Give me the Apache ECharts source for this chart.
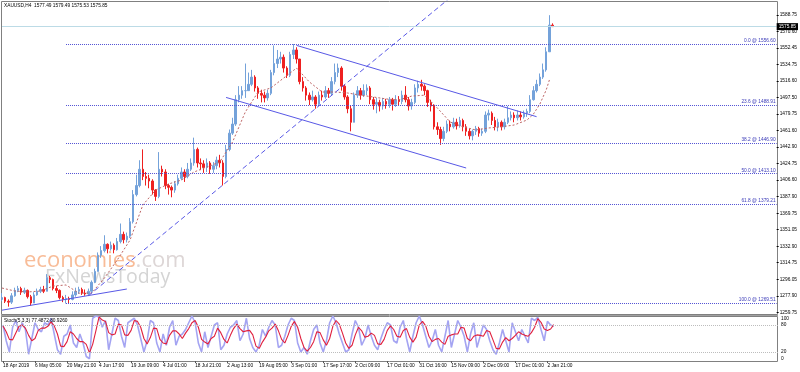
<!DOCTYPE html>
<html><head><meta charset="utf-8">
<script src="https://cdn.jsdelivr.net/npm/echarts@6/dist/echarts.min.js"></script>
<style>html,body{margin:0;padding:0;background:#fff}#c{width:800px;height:372px}</style>
</head><body><div id="c"></div>
<script>
const dates = ['18 Apr 2019','6 May 05:00','20 May 21:00','4 Jun 17:00','19 Jun 09:00','4 Jul 01:00','18 Jul 21:00','2 Aug 13:00','19 Aug 05:00','3 Sep 01:00','17 Sep 17:00','2 Oct 09:00','17 Oct 01:00','31 Oct 16:00','15 Nov 09:00','2 Dec 09:00','17 Dec 01:00','2 Jan 21:00'];
const priceLabels = ['1259.75','1277.90','1296.05','1314.75','1332.90','1351.05','1369.75','1387.90','1406.60','1424.75','1442.90','1461.60','1479.75','1497.50','1516.60','1534.75','1552.45','1570.60','1588.75'];
const stochLabels = ['0','20','80','100'];

const firstOpen = 1274;
const closes = [1276,1272,1271,1278,1284,1286,1282,1284,1277,1270,
1279,1283,1285,1283,1298,1296,1286,1284,1276,1274,
1275,1274,1279,1283,1285,1281,1280,1283,1293,1305,
1323,1328,1335,1330,1334,1329,1338,1346,1340,1344,
1360,1390,1400,1418,1410,1408,1405,1395,1388,1418,
1415,1400,1398,1395,1402,1408,1415,1410,1418,1425,
1440,1425,1424,1420,1425,1418,1422,1428,1425,1410,
1440,1458,1468,1495,1500,1505,1505,1512,1520,1508,
1502,1500,1497,1502,1525,1535,1540,1542,1530,1522,
1545,1550,1540,1515,1508,1500,1495,1498,1490,1500,
1498,1505,1502,1515,1525,1530,1510,1498,1485,1470,
1500,1505,1500,1505,1508,1495,1490,1492,1488,1493,
1490,1495,1490,1495,1493,1500,1495,1488,1492,1508,
1512,1510,1505,1492,1488,1465,1462,1452,1460,1468,
1465,1470,1466,1472,1465,1460,1455,1460,1463,1458,
1460,1478,1480,1472,1465,1470,1465,1470,1475,1478,
1475,1478,1476,1480,1482,1495,1505,1512,1520,1528,
1548,1577.49,1575.85];
const highs = [1281,1277,1274,1281,1287,1289,1288,1287,1285,1279,
1282,1286,1288,1289,1302,1300,1297,1289,1285,1278,
1279,1277,1283,1287,1288,1287,1285,1286,1295,1308,
1326,1333,1345,1336,1338,1336,1342,1358,1349,1348,
1364,1395,1412,1428,1440,1415,1412,1407,1396,1437,
1422,1418,1402,1400,1405,1412,1420,1418,1425,1430,
1453,1442,1430,1428,1430,1427,1426,1432,1434,1428,
1445,1462,1475,1500,1510,1510,1535,1525,1528,1522,
1510,1506,1504,1506,1528,1555,1550,1548,1545,1532,
1548,1556.6,1553,1540,1520,1510,1503,1505,1500,1504,
1505,1510,1508,1520,1535,1535,1532,1512,1500,1488,
1503,1510,1508,1512,1512,1510,1498,1497,1495,1497,
1496,1498,1497,1500,1499,1505,1510,1498,1496,1512,
1516,1517,1512,1506,1495,1490,1470,1465,1465,1472,
1472,1475,1474,1476,1474,1468,1463,1462,1466,1465,
1463,1482,1484,1482,1476,1474,1472,1474,1488,1482,
1481,1483,1482,1483,1485,1500,1510,1517,1524,1535,
1553,1588.5,1579.49];
const lows = [1272,1270,1266,1269,1277,1282,1279,1280,1275,1267,
1270,1278,1281,1281,1283,1292,1284,1281,1274,1271,
1269.5,1270,1273,1277,1280,1279,1278,1278,1281,1292,
1305,1320,1326,1325,1328,1325,1328,1336,1336,1337,
1342,1358,1388,1398,1406,1400,1397,1390,1383,1386,
1410,1396,1390,1387,1392,1400,1406,1404,1408,1416,
1422,1420,1417,1414,1415,1413,1414,1418,1420,1400,
1408,1438,1456,1466,1492,1496,1497,1505,1510,1504,
1496,1492,1492,1494,1500,1522,1530,1535,1525,1519,
1520,1540,1535,1512,1504,1494,1489,1493,1485,1488,
1494,1496,1497,1500,1512,1520,1505,1495,1480,1460,
1470,1497,1495,1498,1500,1490,1484,1480,1482,1484,
1485,1486,1483,1487,1488,1490,1492,1483,1484,1490,
1503,1505,1500,1487,1482,1462,1456,1445,1449,1458,
1460,1463,1462,1464,1460,1455,1451,1450,1456,1454,
1455,1458,1472,1467,1461,1460,1461,1462,1468,1472,
1470,1472,1472,1474,1476,1480,1494,1503,1510,1518,
1526,1548,1575.53];

const maIdx = [0,4,8,12,16,20,24,28,32,36,40,44,48,52,56,60,64,68,72,76,80,84,88,92,96,100,104,108,112,116,120,124,128,132,136,140,144,148,152,156,160,164,166,168,170,171];
const maVal = [1286.6,1283.3,1282.2,1283.3,1288.8,1290,1281,1281,1297.7,1317.6,1339.7,1378.5,1395,1401.7,1406,1415,1420.5,1426,1448,1481.3,1503.5,1508,1519,1530,1514.7,1503.5,1503.5,1502.4,1500,1498,1495.8,1494.7,1499,1500,1485.8,1470.3,1465,1461.5,1463.7,1465,1467,1472.5,1479,1490,1505.7,1516.8];

const stochK = [80,45,20,75,90,65,85,70,15,50,85,70,65,85,80,95,60,25,15,55,60,80,40,30,60,40,10,5,95,100,98,75,90,25,60,95,90,55,30,85,90,95,80,50,20,45,90,85,40,20,60,35,75,90,35,55,60,70,85,100,85,40,20,65,30,55,80,85,25,35,60,75,80,90,45,60,95,50,30,20,35,70,55,75,90,80,30,35,55,80,95,90,40,20,30,15,45,70,80,40,20,45,85,100,85,60,40,20,25,60,90,75,35,50,80,55,35,25,50,70,85,80,45,40,75,90,50,20,55,85,100,80,55,30,45,70,35,20,55,90,30,60,90,75,55,20,60,85,30,55,80,70,45,25,15,40,70,45,20,85,65,45,70,55,40,95,90,97,70,45,88,80,77.49];
const stochD = [78,65,48,47,62,77,80,73,57,45,50,68,73,73,77,87,78,60,33,32,43,65,60,50,43,43,37,18,37,67,98,91,88,63,58,60,82,80,58,57,68,90,88,75,50,38,52,73,72,48,40,38,57,67,67,60,50,62,72,85,90,75,48,42,38,50,55,73,63,48,40,57,72,82,72,65,67,68,58,33,28,42,53,67,73,82,67,48,40,57,77,88,75,50,30,22,30,43,65,63,47,35,50,77,90,82,62,40,28,35,58,75,67,53,55,62,57,38,37,48,68,78,70,55,53,68,72,53,42,53,80,88,78,55,43,48,50,42,37,55,58,60,60,75,73,50,45,55,58,57,55,68,65,47,28,27,42,52,45,50,57,65,60,57,55,63,75,94,86,71,68,71,80.93];

const fibLevels = ['0.0','23.6','38.2','50.0','61.8','100.0'];
const fibPrices = [1556.60,1488.91,1446.90,1413.10,1379.21,1269.51];
const fibStart = 20;
const trendSolid1 = [[0,1262.1],[39,1285.5]];
const trendDashed = [[27,1278.1],[145,1622.4]];
const channelUpper = [[92,1555.1],[167,1476.2]];
const channelLower = [[70,1497.5],[145,1419.4]];
const lastPrice = 1575.85;
const totalSlots = 243;

const yMin = 1259.75, yStep = 18.278, yMax = 1604.2;
const FONT = 'Liberation Sans';
const cats = Array.from({length: totalSlots}, (_, i) => String(i));
const candles = closes.map((c, i) => [i === 0 ? firstOpen : closes[i - 1], c, lows[i], highs[i]]);
const lastIdx = totalSlots - 1;

const fibLines = fibPrices.map((p, k) => [
  {coord: [fibStart, p], label: {formatter: fibLevels[k] + ' @ ' + p.toFixed(2)}},
  {coord: [lastIdx, p]}
]);

const chart = echarts.init(document.getElementById('c'), null, {renderer: 'canvas'});
const blue = '#5858e6';
chart.setOption({
  animation: false,
  backgroundColor: '#fff',
  grid: [
    {left: 2, right: 22, top: 1, height: 311.3},
    {left: 2, right: 22, top: 316, height: 45}
  ],
  xAxis: [
    {gridIndex: 0, type: 'category', data: cats, boundaryGap: false,
     axisLine: {show: false}, axisTick: {show: false}, axisLabel: {show: false}, splitLine: {show: false}},
    {gridIndex: 1, type: 'category', data: cats, boundaryGap: false,
     axisLine: {show: false},
     axisTick: {show: true, length: 2, interval: (i) => i % 10 === 0 && i / 10 < dates.length, lineStyle: {color: '#555'}},
     axisLabel: {show: true, interval: (i) => i % 10 === 0 && i / 10 < dates.length,
       formatter: (v) => { const n = Number(v); return (n % 10 === 0 && dates[n / 10]) ? dates[n / 10] : ''; },
       align: 'left', fontSize: 4.8, fontFamily: FONT, color: '#000', margin: 2},
     splitLine: {show: false}}
  ],
  yAxis: [
    {gridIndex: 0, type: 'value', position: 'right', min: yMin, max: yMax, interval: yStep, scale: true,
     axisLine: {show: false}, splitLine: {show: false},
     axisTick: {show: true, length: 2, lineStyle: {color: '#000'}},
     axisLabel: {fontSize: 4.8, fontFamily: FONT, color: '#000', margin: 3, showMaxLabel: false,
       formatter: (v) => { const k = Math.round((v - yMin) / yStep); return (Math.abs(v - (yMin + k * yStep)) < 0.5 && priceLabels[k]) ? priceLabels[k] : ''; }}},
    {gridIndex: 1, type: 'value', position: 'right', min: 0, max: 100, interval: 20,
     axisLine: {show: false}, splitLine: {show: false}, axisTick: {show: false},
     axisLabel: {fontSize: 4.8, fontFamily: FONT, color: '#000', margin: 3,
       verticalAlignMaxLabel: 'top', verticalAlignMinLabel: 'bottom',
       formatter: (v) => stochLabels.indexOf(String(v)) >= 0 ? String(v) : ''}}
  ],
  series: [
    {type: 'candlestick', xAxisIndex: 0, yAxisIndex: 0, data: candles, barWidth: 2,
     itemStyle: {color: '#74a2da', color0: '#ee2020', borderColor: '#74a2da', borderColor0: '#ee2020', borderWidth: 1},
     markLine: {silent: true, symbol: ['none', 'none'], animation: false,
       lineStyle: {type: 'dotted', color: '#5252d4', width: 1},
       label: {show: true, position: 'insideEndTop', color: '#3a3ab8', fontSize: 4.8, fontFamily: FONT, distance: 1},
       data: fibLines.concat([
         {yAxis: lastPrice, lineStyle: {type: 'solid', color: '#bcdbe6', width: 1},
          label: {position: 'end', formatter: lastPrice.toFixed(2), backgroundColor: '#000', color: '#fff', padding: [1, 2], distance: 0, fontSize: 4.8}}
       ])}},
    {type: 'line', xAxisIndex: 0, yAxisIndex: 0, data: maIdx.map((i, k) => [i, maVal[k]]), symbol: 'none',
     lineStyle: {color: '#bd6464', width: 1, type: [2, 2]}, z: 3},
    {type: 'line', xAxisIndex: 0, yAxisIndex: 0, data: trendSolid1, symbol: 'none', lineStyle: {color: blue, width: 1}, z: 4},
    {type: 'line', xAxisIndex: 0, yAxisIndex: 0, data: trendDashed, symbol: 'none', clip: true, lineStyle: {color: blue, width: 1, type: [5, 3]}, z: 4},
    {type: 'line', xAxisIndex: 0, yAxisIndex: 0, data: channelUpper, symbol: 'none', lineStyle: {color: blue, width: 1}, z: 4},
    {type: 'line', xAxisIndex: 0, yAxisIndex: 0, data: channelLower, symbol: 'none', lineStyle: {color: blue, width: 1}, z: 4},
    {type: 'line', xAxisIndex: 1, yAxisIndex: 1, data: stochK, symbol: 'none', lineStyle: {color: '#a4a4f2', width: 1.6},
     markLine: {silent: true, symbol: ['none', 'none'], label: {show: false},
       lineStyle: {type: 'dotted', color: '#bdbdbd', width: 1}, data: [{yAxis: 80}, {yAxis: 20}]}},
    {type: 'line', xAxisIndex: 1, yAxisIndex: 1, data: stochD, symbol: 'none', lineStyle: {color: '#e0203e', width: 1.1}}
  ],
  graphic: [
    {type: 'text', left: 24, top: 250, z: 0, style: {text: '{a|economies}{b|.com}', rich: {
      a: {fill: '#f8bc98', font: '22px "Open Sans"'}, b: {fill: '#ddd6d6', font: '22px "Open Sans"'}}}},
    {type: 'text', left: 45, top: 267, z: 0, style: {text: 'FxNewsToday', fill: '#d4d4d4', font: '19.5px "Open Sans"'}},
    {type: 'rect', z: 0, shape: {x: 1.5, y: 1.5, width: 776, height: 313}, style: {fill: 'none', stroke: '#808080', lineWidth: 1}},
    {type: 'rect', z: 0, shape: {x: 1.5, y: 316.5, width: 776, height: 45}, style: {fill: 'none', stroke: '#808080', lineWidth: 1}},
    {type: 'line', z: 0, shape: {x1: 1, y1: 315.5, x2: 778, y2: 315.5}, style: {stroke: '#a0a0a0', lineWidth: 1}},
    {type: 'text', left: 4, top: 3, z: 10, style: {text: 'XAUUSD,H4  1577.49 1579.49 1575.53 1575.85', fill: '#000', font: '4.8px "Liberation Sans"'}},
    {type: 'text', left: 4, top: 318, z: 10, style: {text: 'Stoch(5,3,3) 77.4872 80.9260', fill: '#000', font: '4.8px "Liberation Sans"'}}
  ]
});
</script></body></html>
